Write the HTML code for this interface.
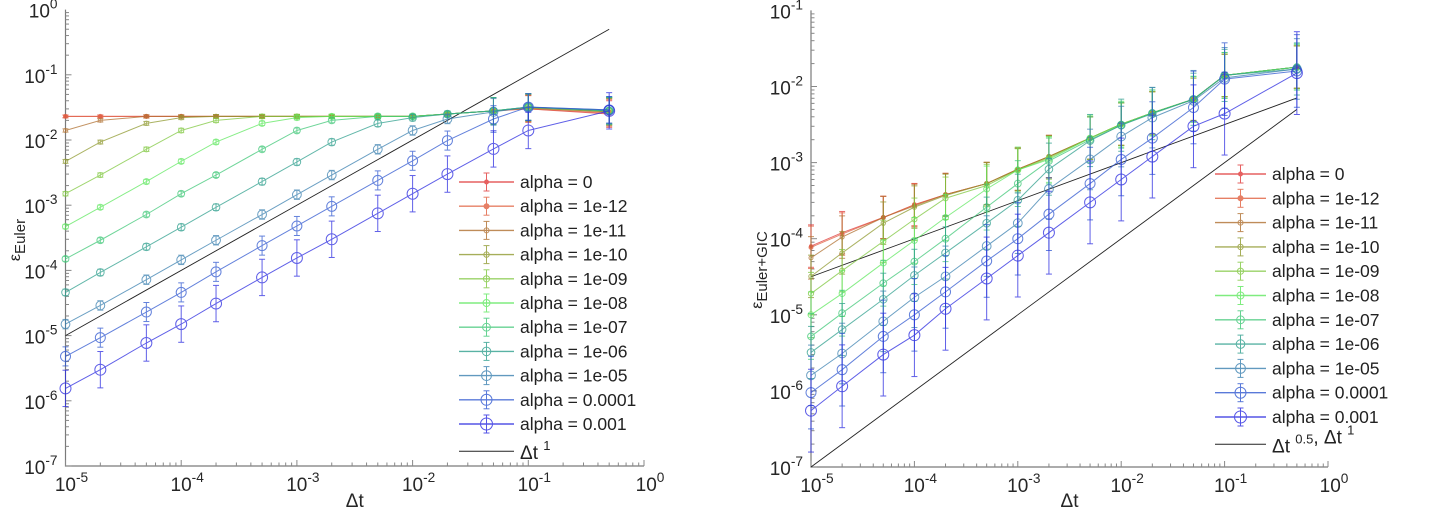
<!DOCTYPE html>
<html><head><meta charset="utf-8"><style>
html,body{margin:0;padding:0;background:#fff;}
svg{display:block;font-family:"Liberation Sans",sans-serif;}
</style></head><body>
<svg id="chart" width="1456" height="514" viewBox="0 0 1456 514" xmlns="http://www.w3.org/2000/svg"></svg>
<script>
const dtValues=[1e-5,2e-5,5e-5,1e-4,2e-4,5e-4,1e-3,2e-3,5e-3,1e-2,2e-2,5e-2,1e-1,5e-1];
const alphaLabels=["alpha = 0","alpha = 1e-12","alpha = 1e-11","alpha = 1e-10","alpha = 1e-09","alpha = 1e-08","alpha = 1e-07","alpha = 1e-06","alpha = 1e-05","alpha = 0.0001","alpha = 0.001"];
const seriesColors=["#e03a3a","#e0603f","#b07030","#909a30","#80c840","#60e860","#40c878","#30a08e","#3a80b0","#3058d0","#2a2ae0"];
const markerSizes=[1.5,2,2,2.2,2.6,3,3.4,3.8,4.4,5,5.5];
const leftErrFactor=[1.05,1.05,1.06,1.07,1.08,1.08,1.09,1.12,1.18,1.4,1.9];
const rightErrFactor=[1.9,1.9,1.9,1.9,1.9,2,2,2.2,2.5,3,3.5];
const leftSeries=[
[0.023,0.023,0.023,0.023,0.023,0.023,0.023,0.023,0.023,0.023,0.025,0.028,0.030,0.025],
[0.023,0.023,0.023,0.023,0.023,0.023,0.023,0.023,0.023,0.023,0.025,0.028,0.030,0.026],
[0.014,0.020,0.023,0.023,0.023,0.023,0.023,0.023,0.023,0.023,0.025,0.028,0.031,0.027],
[0.0047,0.0093,0.018,0.022,0.023,0.023,0.023,0.023,0.023,0.023,0.025,0.028,0.031,0.027],
[0.0015,0.0029,0.0072,0.014,0.020,0.023,0.023,0.023,0.023,0.023,0.025,0.028,0.032,0.028],
[0.00047,0.00093,0.0023,0.0047,0.0093,0.018,0.022,0.023,0.023,0.023,0.025,0.028,0.032,0.028],
[0.00015,0.00029,0.00072,0.0015,0.0029,0.0072,0.014,0.020,0.023,0.023,0.025,0.028,0.032,0.028],
[4.6e-5,9.3e-5,2.3e-4,4.6e-4,9.3e-4,2.3e-3,4.6e-3,9.3e-3,0.018,0.022,0.025,0.028,0.032,0.028],
[1.5e-5,2.9e-5,7.2e-5,1.45e-4,2.9e-4,7.2e-4,1.45e-3,2.9e-3,7.2e-3,0.014,0.021,0.027,0.032,0.029],
[4.8e-6,9.3e-6,2.3e-5,4.6e-5,9.5e-5,2.4e-4,4.8e-4,9.6e-4,2.4e-3,4.8e-3,9.8e-3,0.021,0.032,0.029],
[1.55e-6,3e-6,7.7e-6,1.5e-5,3.1e-5,7.8e-5,1.55e-4,3e-4,7.5e-4,1.5e-3,3e-3,7.3e-3,0.014,0.028]];
const rightSeries=[
[8e-5,1.2e-4,1.9e-4,2.8e-4,3.8e-4,5.3e-4,8.2e-4,1.2e-3,2.1e-3,3.2e-3,4.5e-3,6.8e-3,0.014,0.018],
[7.7e-5,1.15e-4,1.9e-4,2.8e-4,3.8e-4,5.3e-4,8.2e-4,1.2e-3,2.1e-3,3.2e-3,4.5e-3,6.8e-3,0.014,0.018],
[5.6e-5,1.05e-4,1.9e-4,2.7e-4,3.8e-4,5.3e-4,8.2e-4,1.2e-3,2.1e-3,3.2e-3,4.5e-3,6.8e-3,0.014,0.018],
[3.2e-5,6.5e-5,1.6e-4,2.6e-4,3.7e-4,5.3e-4,8.1e-4,1.2e-3,2.1e-3,3.2e-3,4.5e-3,6.8e-3,0.014,0.018],
[1.9e-5,3.8e-5,9.2e-5,1.8e-4,3.4e-4,5e-4,8e-4,1.15e-3,2.1e-3,3.2e-3,4.5e-3,6.8e-3,0.014,0.018],
[1e-5,1.9e-5,4.8e-5,9.5e-5,1.9e-4,4.5e-4,8e-4,1.1e-3,2.1e-3,3.2e-3,4.5e-3,6.8e-3,0.014,0.018],
[5.2e-6,1.05e-5,2.6e-5,5e-5,1e-4,2.6e-4,5.3e-4,1.05e-3,2e-3,3.1e-3,4.5e-3,6.8e-3,0.014,0.018],
[3.2e-6,6.4e-6,1.6e-5,3.3e-5,6.5e-5,1.6e-4,3.2e-4,8.2e-4,1.95e-3,3.1e-3,4.4e-3,6.8e-3,0.014,0.017],
[1.6e-6,3.1e-6,8.2e-6,1.7e-5,3.2e-5,8e-5,1.6e-4,4.5e-4,1.1e-3,2.2e-3,3.9e-3,6.5e-3,0.013,0.017],
[9.5e-7,1.9e-6,5.2e-6,1e-5,2e-5,5.1e-5,1e-4,2.1e-4,5.3e-4,1.1e-3,2.1e-3,5.3e-3,0.0125,0.016],
[5.5e-7,1.15e-6,3e-6,5.4e-6,1.2e-5,3e-5,6e-5,1.2e-4,3e-4,6e-4,1.2e-3,3e-3,4.4e-3,0.015]];
const leftRefCoef=[1];const leftRefPow=[1];
const rightRefCoef=[0.01,0.01];const rightRefPow=[0.5,1];
const xTickExps=[-5,-4,-3,-2,-1,0];
const leftYTickExps=[0,-1,-2,-3,-4,-5,-6,-7];
const rightYTickExps=[-1,-2,-3,-4,-5,-6,-7];

const NS="http://www.w3.org/2000/svg";
const svg=document.getElementById('chart');
function el(tag,attrs,parent){const e=document.createElementNS(NS,tag);for(const k in attrs)e.setAttribute(k,attrs[k]);(parent||svg).appendChild(e);return e;}
function powLabel(g,x,y,exp,anchor,size){
  const t=el('text',{x:x,y:y,'font-size':size,fill:'#262626','text-anchor':anchor},g);
  
  
  const a=document.createElementNS(NS,'tspan');a.textContent='10';t.appendChild(a);
  const b=document.createElementNS(NS,'tspan');b.setAttribute('dy',-9);b.setAttribute('font-size',size*0.72);b.textContent=String(exp);t.appendChild(b);
  return t;
}
function drawPanel(p){
  const g=el('g',{});
  
  
  const X=v=>p.x0+(Math.log10(v)-p.xMinExp)*p.xDec;
  const Y=v=>p.yBot-(Math.log10(v)-p.yMinExp)*p.yDec;
  const xEnd=p.x0+(p.xMaxExp-p.xMinExp)*p.xDec;
  const yTop=p.yBot-(p.yMaxExp-p.yMinExp)*p.yDec;
  const ax=el('path',{d:`M${p.x0} ${yTop}V${p.yBot}H${xEnd}`,stroke:'#7a7a7a','stroke-width':1.2,fill:'none'},g);
  
  
  for(let e=p.xMinExp;e<p.xMaxExp;e++){for(let m=1;m<10;m++){const xx=X(m*Math.pow(10,e));const L=m==1?6:3.5;el('line',{x1:xx,x2:xx,y1:p.yBot,y2:p.yBot-L,stroke:'#888','stroke-width':1},g);}}
  el('line',{x1:xEnd,x2:xEnd,y1:p.yBot,y2:p.yBot-6,stroke:'#888'},g);
  for(let e=p.yMinExp;e<p.yMaxExp;e++){for(let m=1;m<10;m++){const yy=Y(m*Math.pow(10,e));const L=m==1?6:3.5;el('line',{x1:p.x0,x2:p.x0+L,y1:yy,y2:yy,stroke:'#888','stroke-width':1},g);}}
  xTickExps.forEach(e=>powLabel(g,X(Math.pow(10,e))+6,p.yBot+25,e,'middle',19));
  p.yTicks.forEach(e=>powLabel(g,p.x0-8,Y(Math.pow(10,e))+8,e,'end',19));
  p.refCoef.forEach((c,i)=>{const f=v=>c*Math.pow(v,p.refPow[i]);const a=dtValues[0],b=dtValues[dtValues.length-1];
    const l=el('line',{x1:X(a),y1:Y(f(a)),x2:X(b),y2:Y(f(b)),stroke:'#222','stroke-width':0.9},g);
    
    });
  p.series.forEach((s,i)=>{
    const sg=el('g',{opacity:0.75},g);
    
    
    const c=seriesColors[i];const ef=p.err[i];
    el('polyline',{points:s.map((v,j)=>X(dtValues[j])+','+Y(v)).join(' '),fill:'none',stroke:c,'stroke-width':1},sg);
    s.forEach((v,j)=>{const xx=X(dtValues[j]);
      const e2=j>=11?Math.max(ef,1.6):ef;
      el('line',{x1:xx,x2:xx,y1:Y(v*e2),y2:Y(v/e2),stroke:c,'stroke-width':1},sg);
      el('line',{x1:xx-3,x2:xx+3,y1:Y(v*e2),y2:Y(v*e2),stroke:c,'stroke-width':1},sg);
      el('line',{x1:xx-3,x2:xx+3,y1:Y(v/e2),y2:Y(v/e2),stroke:c,'stroke-width':1},sg);
      el('circle',{cx:xx,cy:Y(v),r:markerSizes[i],fill:i<2?c:'none',stroke:c,'stroke-width':1},sg);
    });
  });
  const lg=el('g',{},g);
  
  
  alphaLabels.forEach((lab,i)=>{
    const y=p.legY+i*p.legDy;const c=seriesColors[i];const mx=(p.legX1+p.legX2)/2;
    const eg=el('g',{},lg);
    
    
    const o=el('g',{opacity:0.8},eg);
    el('line',{x1:p.legX1,x2:p.legX2,y1:y,y2:y,stroke:c,'stroke-width':1.4},o);
    el('line',{x1:mx,x2:mx,y1:y-9,y2:y+9,stroke:c},o);
    el('line',{x1:mx-3,x2:mx+3,y1:y-9,y2:y-9,stroke:c},o);
    el('line',{x1:mx-3,x2:mx+3,y1:y+9,y2:y+9,stroke:c},o);
    el('circle',{cx:mx,cy:y,r:markerSizes[i]+0.5,fill:i<2?c:'none',stroke:c},o);
    const t=el('text',{x:p.legX2+6,y:y+6,'font-size':17.5,fill:'#222'},eg);t.textContent=lab;
  });
  const y=p.legY+alphaLabels.length*p.legDy+3;
  const eg=el('g',{},lg);
  
  
  el('line',{x1:p.legX1,x2:p.legX2,y1:y,y2:y,stroke:'#222'},eg);
  const t=el('text',{x:p.legX2+6,y:y+8,'font-size':19,fill:'#222'},eg);
  p.refLabel.forEach(([txt,sup])=>{const a=document.createElementNS(NS,'tspan');a.textContent=txt;t.appendChild(a);
    if(sup){const b=document.createElementNS(NS,'tspan');b.setAttribute('dy',-9);b.setAttribute('font-size',13);b.textContent=sup;t.appendChild(b);
      const c2=document.createElementNS(NS,'tspan');c2.setAttribute('dy',9);c2.textContent='';t.appendChild(c2);}});
  const xl=el('text',{x:(p.x0+xEnd)/2,y:507,'font-size':19,fill:'#262626','text-anchor':'middle'},g);
  xl.textContent='Δt';
  
  
  const yl=el('text',{transform:`translate(${p.yLabX},${p.yLabY}) rotate(-90)`,'font-size':16,fill:'#262626','text-anchor':'middle'},g);
  
  
  const a=document.createElementNS(NS,'tspan');a.textContent='ε';yl.appendChild(a);
  const b=document.createElementNS(NS,'tspan');b.setAttribute('dy',5);b.setAttribute('font-size',15);b.textContent=p.yLabSub;yl.appendChild(b);
}
drawPanel({name:'left-panel',x0:65.5,xDec:115.7,xMinExp:-5,xMaxExp:0,yBot:466,yDec:65.2,yMinExp:-7,yMaxExp:0,yTicks:leftYTickExps,
  series:leftSeries,err:leftErrFactor,refCoef:leftRefCoef,refPow:leftRefPow,legX1:459,legX2:514,legY:182,legDy:24.2,
  refLabel:[['Δt ','1']],yLabX:20,yLabY:240,yLabSub:'Euler'});
drawPanel({name:'right-panel',x0:811,xDec:103.4,xMinExp:-5,xMaxExp:0,yBot:467,yDec:76.1,yMinExp:-7,yMaxExp:-1,yTicks:rightYTickExps,
  series:rightSeries,err:rightErrFactor,refCoef:rightRefCoef,refPow:rightRefPow,legX1:1215,legX2:1266,legY:174,legDy:24.3,
  refLabel:[['Δt ','0.5'],[', Δt ','1']],yLabX:762,yLabY:270,yLabSub:'Euler+GIC'});
</script>
</body></html>
